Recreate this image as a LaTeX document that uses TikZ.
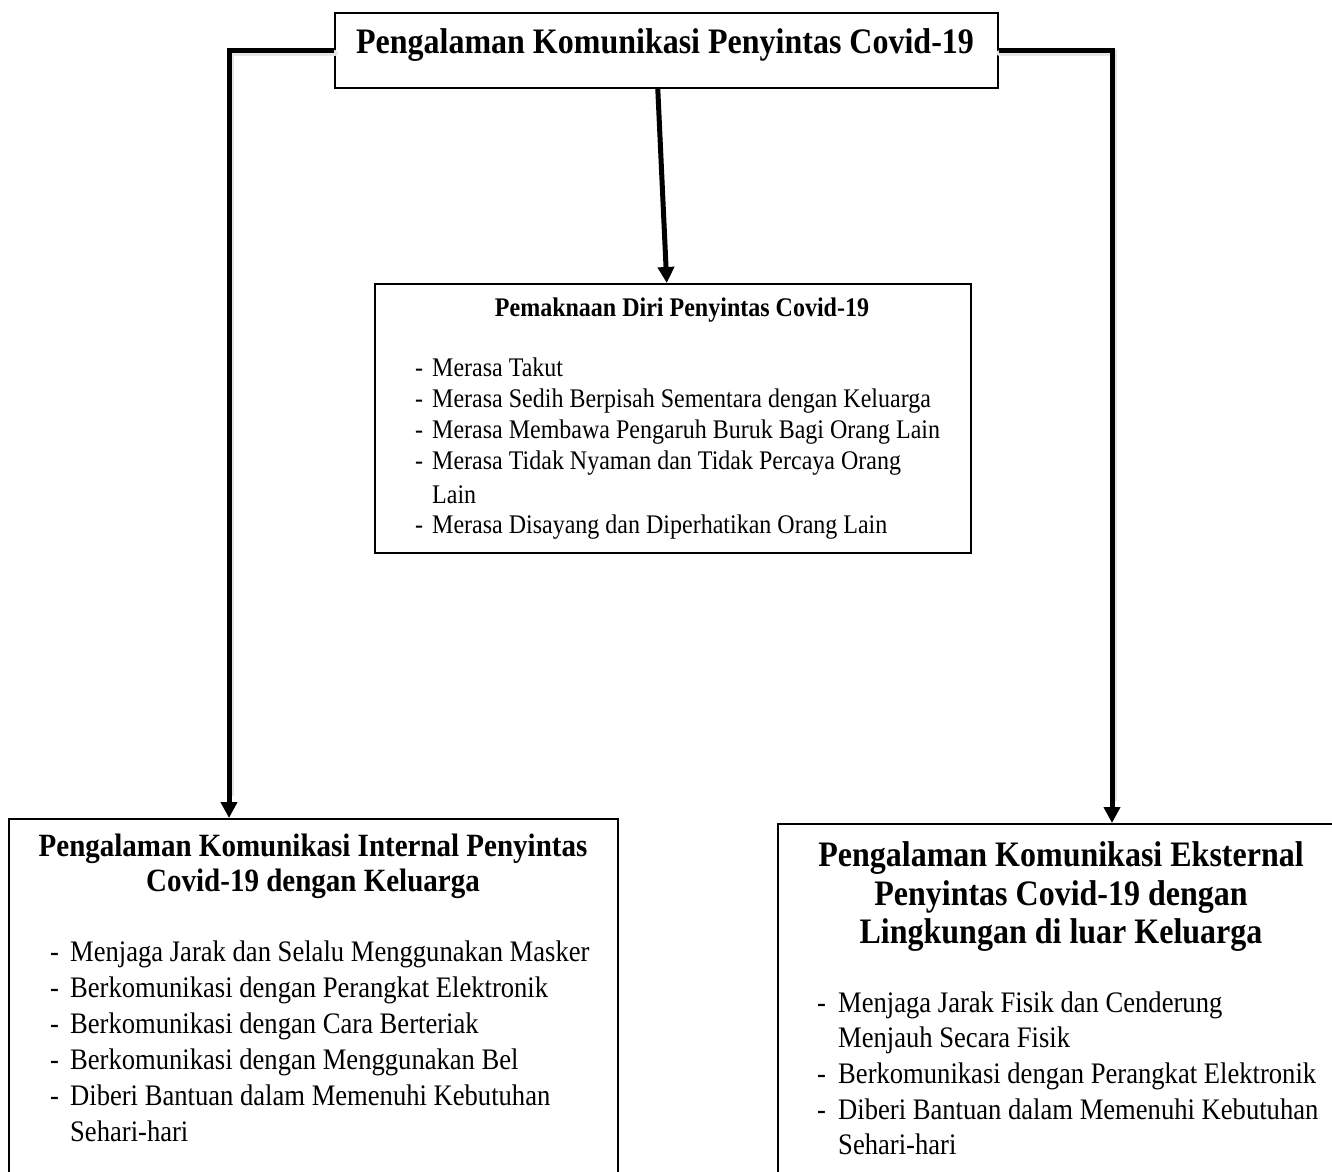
\documentclass[tikz,border=0pt]{standalone}
\usepackage{fontspec}
\setmainfont{Liberation Serif}
\usetikzlibrary{arrows.meta}
\newcommand\vst[1]{\scalebox{1}[1.12]{#1}}
\tikzset{
  box/.style={draw, line width=1.5pt, rectangle, anchor=north west, inner sep=0pt},
  conn/.style={line width=5pt, -{Triangle[width=16pt,length=16pt]}},
  shade/.style={line width=6pt, draw=black!10, line cap=round},
  ttl/.style={anchor=base, inner sep=0pt, font=\bfseries\fontsize{#1}{#1}\selectfont},
  itm/.style={anchor=base west, inner sep=0pt, font=\fontsize{#1}{#1}\selectfont},
}
\begin{document}
\begin{tikzpicture}[x=1pt,y=-1pt]
\useasboundingbox (0,0) rectangle (1332,1171);
\clip (0,0) rectangle (1332,1171);

% boxes
\node[box, minimum width=663pt, minimum height=75pt] (top) at (334,12) {};
\node[box, minimum width=596pt, minimum height=269pt] (mid) at (374,283) {};
\node[box, minimum width=609pt, minimum height=420pt] (left) at (8,818) {};
\node[box, minimum width=620pt, minimum height=420pt] (right) at (777,823) {};

% connector shadows
\draw[shade] ([shift={(1pt,-3pt)}]top.west) -| ([shift={(223pt,24pt)}]left.north west);
\draw[shade] ([shift={(1pt,-3pt)}]top.east) -| ([shift={(337pt,24pt)}]right.north west);

% connectors
\draw[conn] (top.west) -| ([xshift=221pt]left.north west);
\draw[conn] (top.east) -| ([xshift=335pt]right.north west);
\draw[conn] ([xshift=-8.5pt]top.south) -- ([xshift=-6pt]mid.north);

% top title
\node[ttl=32] (tt) at (665,53) {\vst{Pengalaman Komunikasi Penyintas Covid-19}};

% middle box
\node[ttl=24] (mt) at (682,316) {\vst{Pemaknaan Diri Penyintas Covid-19}};
\node[itm=24] (m1) at (415,376) {\vst{\makebox[17pt][l]{-}Merasa Takut}};
\node[itm=24] (m2) at (415,407) {\vst{\makebox[17pt][l]{-}Merasa Sedih Berpisah Sementara dengan Keluarga}};
\node[itm=24] (m3) at (415,438) {\vst{\makebox[17pt][l]{-}Merasa Membawa Pengaruh Buruk Bagi Orang Lain}};
\node[itm=24] (m4) at (415,469) {\vst{\makebox[17pt][l]{-}Merasa Tidak Nyaman dan Tidak Percaya Orang}};
\node[itm=24] (m5) at (415,503) {\vst{\hspace*{17pt}Lain}};
\node[itm=24] (m6) at (415,533) {\vst{\makebox[17pt][l]{-}Merasa Disayang dan Diperhatikan Orang Lain}};

% left box
\node[ttl=29] (lt1) at (313,856) {\vst{Pengalaman Komunikasi Internal Penyintas}};
\node[ttl=29] (lt2) at (313,891) {\vst{Covid-19 dengan Keluarga}};
\node[itm=26.6] (l1) at (50,961) {\vst{\makebox[20pt][l]{-}Menjaga Jarak dan Selalu Menggunakan Masker}};
\node[itm=26.6] (l2) at (50,997) {\vst{\makebox[20pt][l]{-}Berkomunikasi dengan Perangkat Elektronik}};
\node[itm=26.6] (l3) at (50,1033) {\vst{\makebox[20pt][l]{-}Berkomunikasi dengan Cara Berteriak}};
\node[itm=26.6] (l4) at (50,1069) {\vst{\makebox[20pt][l]{-}Berkomunikasi dengan Menggunakan Bel}};
\node[itm=26.6] (l5) at (50,1105) {\vst{\makebox[20pt][l]{-}Diberi Bantuan dalam Memenuhi Kebutuhan}};
\node[itm=26.6] (l6) at (50,1141) {\vst{\hspace*{20pt}Sehari-hari}};

% right box
\node[ttl=32] (rt1) at (1061,866) {\vst{Pengalaman Komunikasi Eksternal}};
\node[ttl=32] (rt2) at (1061,905) {\vst{Penyintas Covid-19 dengan}};
\node[ttl=32] (rt3) at (1061,943) {\vst{Lingkungan di luar Keluarga}};
\node[itm=26.6] (r1) at (817,1012) {\vst{\makebox[21pt][l]{-}Menjaga Jarak Fisik dan Cenderung}};
\node[itm=26.6] (r2) at (817,1047) {\vst{\hspace*{21pt}Menjauh Secara Fisik}};
\node[itm=26.6] (r3) at (817,1083) {\vst{\makebox[21pt][l]{-}Berkomunikasi dengan Perangkat Elektronik}};
\node[itm=26.6] (r4) at (817,1119) {\vst{\makebox[21pt][l]{-}Diberi Bantuan dalam Memenuhi Kebutuhan}};
\node[itm=26.6] (r5) at (817,1154) {\vst{\hspace*{21pt}Sehari-hari}};
\end{tikzpicture}
\end{document}
